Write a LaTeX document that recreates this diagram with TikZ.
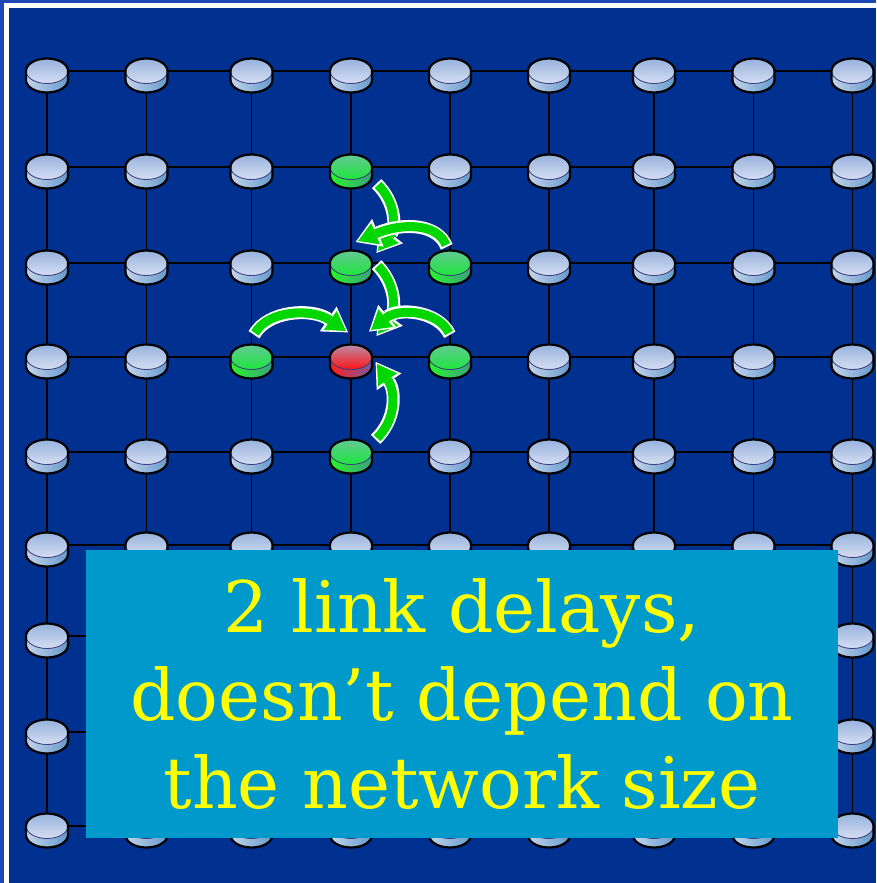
\documentclass[tikz,border=0pt]{standalone}
\usepackage{fontspec}
\setmainfont{DejaVu Serif}
\usetikzlibrary{arrows.meta}
\definecolor{bgdark}{RGB}{0,48,144}
\definecolor{bgouter}{RGB}{30,72,180}
\definecolor{boxcol}{RGB}{0,153,204}
\definecolor{txtyellow}{RGB}{255,255,0}
\definecolor{agreen}{RGB}{0,215,0}
\definecolor{rimline}{RGB}{60,60,130}
\definecolor{bluetopA}{RGB}{150,178,220}
\definecolor{bluetopB}{RGB}{214,222,242}
\definecolor{bluesideA}{RGB}{196,212,236}
\definecolor{bluesideB}{RGB}{100,154,204}
\definecolor{greentopA}{RGB}{100,200,150}
\definecolor{greentopB}{RGB}{30,230,60}
\definecolor{greensideA}{RGB}{40,245,40}
\definecolor{greensideB}{RGB}{60,160,130}
\definecolor{redtopA}{RGB}{184,140,170}
\definecolor{redtopB}{RGB}{255,20,20}
\definecolor{redsideA}{RGB}{255,30,30}
\definecolor{redsideB}{RGB}{120,90,160}
\tikzset{
  gridline/.style={black, line width=1.3pt},
  pics/disk/.style={code={
    \fill[left color=#1sideA, right color=#1sideB] (-21pt,0pt) -- (-21pt,-9pt)
      arc[start angle=180,end angle=360,x radius=21pt,y radius=12.5pt] -- (21pt,0pt) -- cycle;
    \fill[top color=#1topA, bottom color=#1topB] (0pt,0pt) ellipse[x radius=21pt,y radius=12.5pt];
    \draw[rimline, line width=0.8pt] (-21pt,0pt) arc[start angle=180,end angle=360,x radius=21pt,y radius=12.5pt];
    \draw[black, line width=2.2pt] (-21pt,0pt) arc[start angle=180,end angle=0,x radius=21pt,y radius=12.5pt]
      -- (21pt,-9pt) arc[start angle=0,end angle=-180,x radius=21pt,y radius=12.5pt] -- cycle;
  }},
  whitearrow/.style={white, line width=13pt, shorten <=-2pt, shorten >=-2.5pt,
    -{Triangle[length=24pt,width=30pt,line width=0pt]}},
  greenarrow/.style={agreen, line width=9pt,
    -{Triangle[length=19pt,width=23pt,line width=0pt]}},
  labelbox/.style={fill=boxcol, minimum width=752pt, minimum height=288pt, inner sep=0pt},
  labeltext/.style={text=txtyellow, font=\fontsize{71}{88}\selectfont, align=center, inner sep=0pt}
}
\newcommand{\gcurve}[1]{%
  \draw[whitearrow] #1;
  \draw[greenarrow] #1;}
\expandafter\def\csname dk@2@4\endcsname{green}
\expandafter\def\csname dk@3@4\endcsname{green}
\expandafter\def\csname dk@3@5\endcsname{green}
\expandafter\def\csname dk@4@3\endcsname{green}
\expandafter\def\csname dk@4@5\endcsname{green}
\expandafter\def\csname dk@5@4\endcsname{green}
\expandafter\def\csname dk@4@4\endcsname{red}
\begin{document}
\begin{tikzpicture}[x=1pt,y=-1pt]
\useasboundingbox (0,0) rectangle (876,883);
\fill[bgouter] (0,0) rectangle (876,883);
\fill[white] (3.5,3.5) rectangle (876,883);
\fill[bgdark] (8.5,8.5) rectangle (876,883);
% node positions
\foreach \r/\y in {1/71,2/167,3/263,4/357,5/452,6/545,7/636,8/732,9/826}{
  \foreach \c/\x in {1/47,2/146.5,3/251.5,4/351,5/450,6/549,7/654,8/753.5,9/852.5}{
    \coordinate (n-\r-\c) at (\x,\y);
  }
}
% grid connectors
\foreach \r in {1,...,9}{
  \foreach \c [evaluate=\c as \cn using int(\c+1)] in {1,...,8}{
    \draw[gridline] (n-\r-\c) -- (n-\r-\cn);
    \draw[gridline] (n-\c-\r) -- (n-\cn-\r);
  }
}
% disks
\foreach \r in {1,...,9}{
  \foreach \c in {1,...,9}{
    \ifcsname dk@\r @\c\endcsname
      \edef\dcol{\csname dk@\r @\c\endcsname}%
    \else
      \def\dcol{blue}%
    \fi
    \pic at (n-\r-\c) {disk=\dcol};
  }
}
% arrow end points
\coordinate (a1s) at (378,185);
\coordinate (a1e) at (378,251);
\coordinate (a2s) at (446,245);
\coordinate (a2e) at (358,241);
\coordinate (a3s) at (378,266);
\coordinate (a3e) at (378,334);
\coordinate (a4s) at (255,333);
\coordinate (a4e) at (346,331);
\coordinate (a5s) at (449,333);
\coordinate (a5e) at (371,330);
\coordinate (a6s) at (377,438);
\coordinate (a6e) at (377,364);
\gcurve{(a1s) .. controls (396,202) and (396,228) .. (a1e)}
\gcurve{(a2s) .. controls (438,224) and (404,222) .. (a2e)}
\gcurve{(a3s) .. controls (396,284) and (396,310) .. (a3e)}
\gcurve{(a4s) .. controls (268,310) and (312,308) .. (a4e)}
\gcurve{(a5s) .. controls (438,310) and (398,308) .. (a5e)}
\gcurve{(a6s) .. controls (396,420) and (396,392) .. (a6e)}
% label
\node[labelbox] (box) at (462,694) {};
\node[labeltext] (label) at (box.center) {2 link delays,\\doesn’t depend on\\the network size};
\end{tikzpicture}
\end{document}
